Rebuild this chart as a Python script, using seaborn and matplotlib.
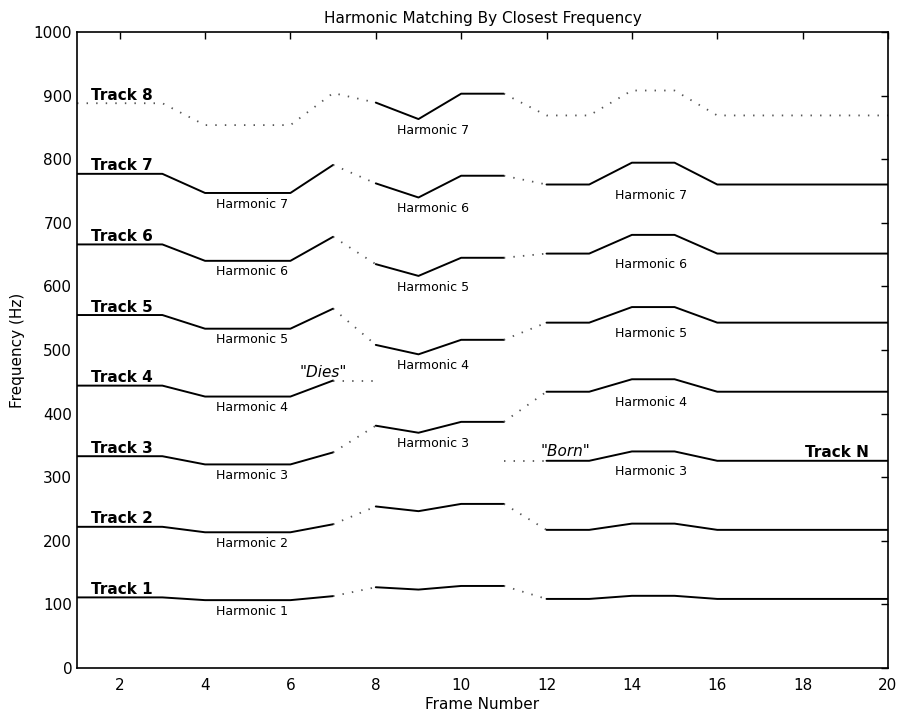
import matplotlib
matplotlib.use("Agg")
import matplotlib.pyplot as plt
import pandas as pd
import seaborn as sns

# Analysis frames and the fundamental frequency (Hz) estimated in each frame
frames = list(range(1, 21))
f0 = [111.0, 111.0, 111.0, 106.7, 106.7, 106.7, 113.0, 127.0, 123.3, 129.0,
      129.0, 108.6, 108.6, 113.5, 113.5, 108.6, 108.6, 108.6, 108.6, 108.6]

# Harmonic number each track is matched to, frame by frame (None = track absent)
track_harmonics = {
    "Track 1": [1] * 20,
    "Track 2": [2] * 20,
    "Track 3": [3] * 11 + [4] * 9,
    "Track 4": [4] * 7 + [None] * 13,
    "Track 5": [5] * 7 + [4] * 4 + [5] * 9,
    "Track 6": [6] * 7 + [5] * 4 + [6] * 9,
    "Track 7": [7] * 7 + [6] * 4 + [7] * 9,
    "Track 8": [8] * 7 + [7] * 4 + [8] * 9,
    "Track N": [None] * 11 + [3] * 9,
}

dotted_links = [7, 11]        # frame-to-frame jumps drawn dotted
weak_harmonic = 8             # harmonic drawn dotted (no energy)
dies = {"Track 4": 7}         # last frame of a track that dies
born = {"Track N": 12}        # first frame of a track that is born

# Harmonic labels: (label x, frame used for the height, harmonics)
harmonic_label_groups = [
    (5.1, 5, [1, 2, 3, 4, 5, 6, 7]),
    (9.35, 9, [3, 4, 5, 6, 7]),
    (14.45, 13, [3, 4, 5, 6, 7]),
]

# ---- build line segments --------------------------------------------------
rows = []
for name, harms in track_harmonics.items():
    pts = [(fr, h * f0[i], h) for i, (fr, h) in enumerate(zip(frames, harms))
           if h is not None]
    if name in born:
        pts.insert(0, (born[name] - 1, pts[0][1], None))
    if name in dies:
        pts.append((dies[name] + 1, pts[-1][1], None))

    runs = []
    for a, b in zip(pts[:-1], pts[1:]):
        dotted = (a[0] in dotted_links or a[2] is None or b[2] is None
                  or a[2] == weak_harmonic or b[2] == weak_harmonic)
        style = "dotted" if dotted else "solid"
        if runs and runs[-1][0] == style:
            runs[-1][1].append(b)
        else:
            runs.append((style, [a, b]))
    for k, (style, seg) in enumerate(runs):
        for fr, fq, _ in seg:
            rows.append({"track": name, "unit": f"{name}-{k}", "style": style,
                         "frame": fr, "freq": fq})

df = pd.DataFrame(rows)

# ---- figure ---------------------------------------------------------------
sns.set_style("white")
plt.rcParams["font.family"] = ["DejaVu Sans"]
plt.rcParams["text.color"] = "black"
plt.rcParams["axes.labelcolor"] = "black"
plt.rcParams["xtick.color"] = "black"
plt.rcParams["ytick.color"] = "black"

fig = plt.figure(figsize=(9, 7.18), dpi=100)
ax = fig.add_axes([77 / 900, 50 / 718, 811 / 900, 636 / 718])

sns.lineplot(data=df[df["style"] == "solid"], x="frame", y="freq",
             units="unit", estimator=None, sort=False, color="black",
             linewidth=1.4, ax=ax)
sns.lineplot(data=df[df["style"] == "dotted"], x="frame", y="freq",
             units="unit", estimator=None, sort=False, color="#555555",
             linewidth=1.3, linestyle=(0, (0.8, 4.5)), ax=ax)

ax.set_xlim(1, 20)
ax.set_ylim(0, 1000)
ax.set_xticks(range(2, 21, 2))
ax.set_yticks(range(0, 1001, 100))
ax.tick_params(axis="both", direction="in", top=True, right=True,
               length=5, width=1, labelsize=11, colors="black")
ax.tick_params(axis="x", pad=7)
ax.tick_params(axis="y", pad=3.5)
for sp in ax.spines.values():
    sp.set_visible(True)
    sp.set_color("black")
    sp.set_linewidth(1.2)

ax.set_title("Harmonic Matching By Closest Frequency", fontsize=11, pad=6.5,
             color="black")
ax.set_xlabel("Frame Number", fontsize=11, labelpad=3)
ax.set_ylabel("Frequency (Hz)", fontsize=11, labelpad=6)

# Track names at the start of each track
for name, harms in track_harmonics.items():
    if harms[0] is None:
        continue
    ax.annotate(name, (1.33, harms[0] * f0[0]), xytext=(0, 2.5),
                textcoords="offset points", ha="left", va="baseline",
                fontsize=11, fontweight="bold", color="black")

# Newly born track named at the right end
nh = track_harmonics["Track N"][-1]
ax.annotate("Track N", (19.55, nh * f0[-1]), xytext=(0, 2.5),
            textcoords="offset points", ha="right", va="baseline",
            fontsize=11, fontweight="bold", color="black")

# Harmonic numbers under the line segments
for lx, ref_frame, harm_list in harmonic_label_groups:
    for h in harm_list:
        ax.annotate(f"Harmonic {h}", (lx, h * f0[ref_frame - 1]),
                    xytext=(0, -8), textcoords="offset points",
                    ha="center", va="center", fontsize=9, color="black")

# Birth / death markers
d_frame = dies["Track 4"]
ax.annotate('"Dies"', (6.77, 4 * f0[d_frame - 1]), xytext=(0, 6),
            textcoords="offset points", ha="center", va="center",
            fontsize=11, fontstyle="italic", color="black")
b_frame = born["Track N"]
ax.annotate('"Born"', (12.45, 3 * f0[b_frame - 1]), xytext=(0, 7),
            textcoords="offset points", ha="center", va="center",
            fontsize=11, fontstyle="italic", color="black")

fig.savefig("out.png", dpi=100)
